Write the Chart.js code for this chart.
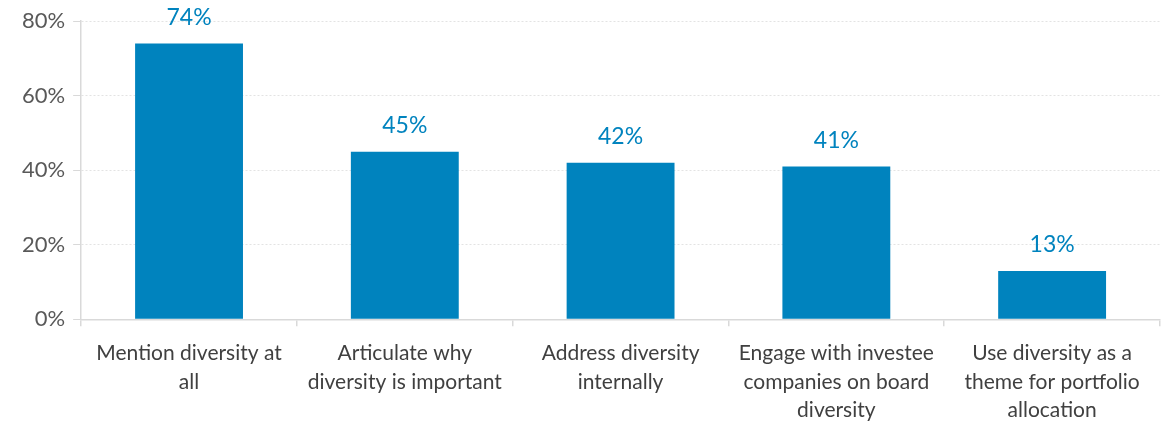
<!DOCTYPE html>
<html lang="en">
<head>
    <meta charset="UTF-8">
    <title>Diversity</title>
    <script src="https://cdn.jsdelivr.net/npm/chart.js"></script>
    <style>
        body { margin: 0; background: #fff; }
        #wrap { width: 1162px; height: 422px; }
    </style>
</head>
<body>
    <div id="wrap"><canvas id="chart"></canvas></div>

    <script>
        const categories = [
            ['Mention diversity at', 'all'],
            ['Articulate why', 'diversity is important'],
            ['Address diversity', 'internally'],
            ['Engage with investee', 'companies on board', 'diversity'],
            ['Use diversity as a', 'theme for portfolio', 'allocation']
        ];
        const values = [74, 45, 42, 41, 13];
        const yTicks = [0, 20, 40, 60, 80];

        const blue = '#0083be';

        // value labels above the bars
        const barLabels = {
            id: 'barLabels',
            afterDatasetsDraw(chart) {
                const ctx = chart.ctx;
                const meta = chart.getDatasetMeta(0);
                ctx.save();
                ctx.font = '23px Lato';
                ctx.fillStyle = blue;
                ctx.textAlign = 'center';
                ctx.textBaseline = 'alphabetic';
                meta.data.forEach((bar, i) => {
                    ctx.fillText(values[i] + '%', bar.x, bar.y - 19);
                });
                ctx.restore();
            }
        };

        new Chart(document.getElementById('chart'), {
            type: 'bar',
            data: {
                labels: categories,
                datasets: [{
                    data: values,
                    backgroundColor: blue,
                    categoryPercentage: 1,
                    barPercentage: 0.5
                }]
            },
            options: {
                responsive: true,
                maintainAspectRatio: false,
                animation: false,
                layout: { padding: { left: 14, right: 2, top: 13, bottom: -16 } },
                plugins: { legend: { display: false }, tooltip: { enabled: false } },
                scales: {
                    x: {
                        grid: { drawOnChartArea: false, color: '#d9d9d9', tickLength: 7, lineWidth: 1.5 },
                        border: { color: '#d9d9d9', width: 1.5 },
                        ticks: { color: '#404040', font: { family: 'Lato', size: 21, lineHeight: 1.36 }, padding: 13, maxRotation: 0 }
                    },
                    y: {
                        min: 0,
                        max: 80,
                        afterBuildTicks(axis) { axis.ticks = yTicks.map(v => ({ value: v })); },
                        grid: { color: '#e3e3e3', tickLength: 8, tickColor: '#d9d9d9' },
                        border: { color: '#d9d9d9', width: 1.5, dash: [2, 2] },
                        ticks: {
                            color: '#595959',
                            font: { family: 'Lato', size: 22 },
                            padding: 8,
                            callback: v => v + '%'
                        }
                    }
                }
            },
            plugins: [barLabels]
        });
    </script>
</body>
</html>
